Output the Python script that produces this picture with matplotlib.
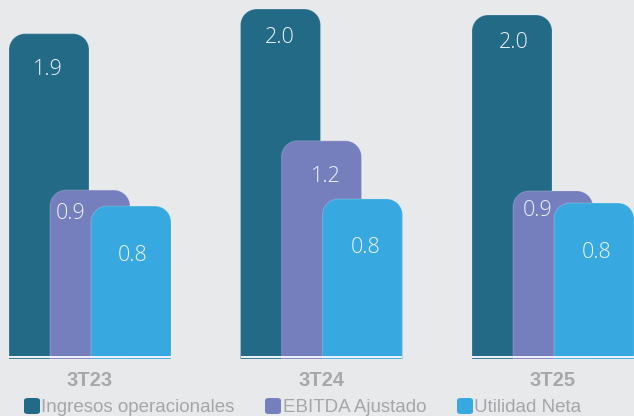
import matplotlib.pyplot as plt
from matplotlib.path import Path
from matplotlib.patches import PathPatch, FancyBboxPatch

# data (bar heights; labels as printed on the bars)
periods = ["3T23", "3T24", "3T25"]
series = ["Ingresos operacionales", "EBITDA Ajustado", "Utilidad Neta"]
ingresos = [1.89, 2.035, 2.0]
ebitda = [0.97, 1.26, 0.965]
utilidad = [0.876, 0.918, 0.894]
ingresos_lbl = ["1.9", "2.0", "2.0"]
ebitda_lbl = ["0.9", "1.2", "0.9"]
utilidad_lbl = ["0.8", "0.8", "0.8"]

colors = ["#236a87", "#767fbd", "#37a9e0"]
bg = "#e8e9eb"

# label offsets in px from bar centre / bar top (dx, dy) per series, per period
lbl_off = [
    [(-1, 36), (-1, 28), (2, 28)],
    [(-19, 23), (4, 36), (-15, 20)],
    [(2, 49), (3, 49), (3, 49)],
]

W, H = 634, 416
PX_X = 231.5  # px per group
PX_Y = 170.0  # px per unit
fig = plt.figure(figsize=(W / 100, H / 100), dpi=100, facecolor=bg)
ax = fig.add_axes([0, 0, 1, 1])
ax.set_facecolor(bg)
ax.set_xlim(-90 / PX_X, (W - 90) / PX_X)
ax.set_ylim(-(H - 355) / PX_Y, 355 / PX_Y)
ax.axis("off")

bw = 80 / PX_X
step = 41 / PX_X
rx, ry = 16 / PX_X, 16 / PX_Y
k = 0.5523
bottom = -4 / PX_Y


def top_rounded(x0, x1, y0, y1):
    verts = [(x0, y0), (x0, y1 - ry),
             (x0, y1 - ry + k * ry), (x0 + rx - k * rx, y1), (x0 + rx, y1),
             (x1 - rx, y1),
             (x1 - rx + k * rx, y1), (x1, y1 - ry + k * ry), (x1, y1 - ry),
             (x1, y0), (x0, y0)]
    codes = [Path.MOVETO, Path.LINETO,
             Path.CURVE4, Path.CURVE4, Path.CURVE4,
             Path.LINETO,
             Path.CURVE4, Path.CURVE4, Path.CURVE4,
             Path.LINETO, Path.CLOSEPOLY]
    return Path(verts, codes)


values = [ingresos, ebitda, utilidad]
labels = [ingresos_lbl, ebitda_lbl, utilidad_lbl]

for i, p in enumerate(periods):
    for j in range(3):
        xc = i + (j - 1) * step
        v = values[j][i]
        patch = PathPatch(top_rounded(xc - bw / 2, xc + bw / 2, bottom, v),
                          facecolor=colors[j], edgecolor=(1, 1, 1, 0.18),
                          lw=0.8, zorder=2 + j)
        ax.add_patch(patch)
        dx, dy = lbl_off[j][i]
        ax.annotate(labels[j][i], (xc, v), xytext=(dx * 0.72, -dy * 0.72),
                    textcoords="offset points", ha="center", va="center",
                    fontsize=15.5, family="Open Sans", fontweight="light",
                    color="#eef3f7", zorder=10)
    x_left = i - step - bw / 2
    x_right = i + step + bw / 2
    ax.plot([x_left, x_right], [-1.6 / PX_Y, -1.6 / PX_Y], color="#f4f5f7",
            lw=1.4, zorder=8, solid_capstyle="butt")
    ax.text(i, -(381 - 355) / PX_Y, p, ha="center", va="center",
            fontsize=14.5, fontweight="bold", family="Liberation Sans",
            color="#a8a8aa")

# legend drawn by hand in pixel positions
sq_x = [24, 265, 457]
txt_x = [41, 283, 474]
for j, name in enumerate(series):
    fig.patches.append(FancyBboxPatch(
        (sq_x[j] / W, 1 - 414 / H), 16 / W, 16 / H,
        boxstyle="round,pad=0,rounding_size=0.006",
        transform=fig.transFigure, facecolor=colors[j], edgecolor="none"))
    fig.text(txt_x[j] / W, 1 - 412 / H, name, ha="left", va="baseline",
             fontsize=13.5, family="Liberation Sans", color="#a6a6a8")

fig.savefig("out.png", dpi=100, facecolor=bg)
